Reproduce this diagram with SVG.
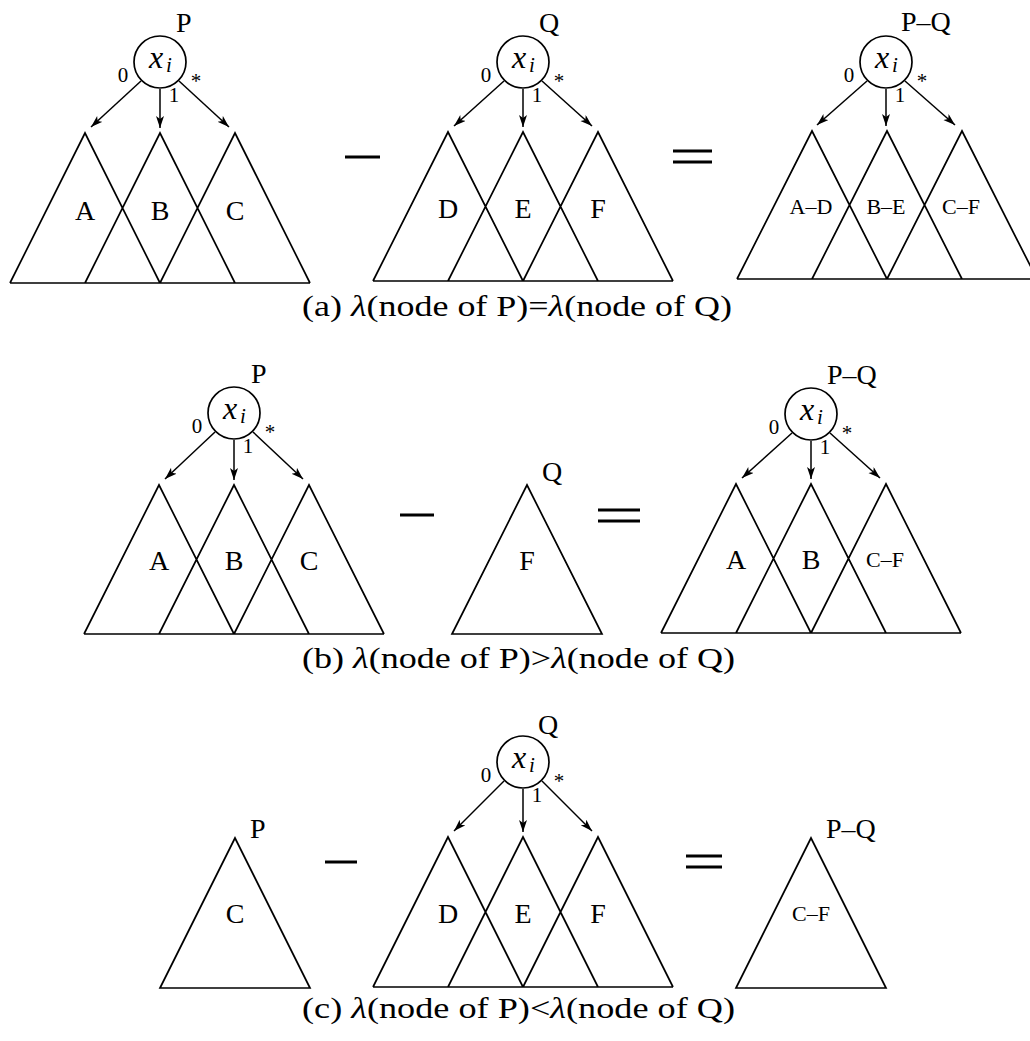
<svg xmlns="http://www.w3.org/2000/svg" width="1030" height="1041" viewBox="0 0 1030 1041">
<style>
.ln{stroke:#000;stroke-width:1.7;fill:none;stroke-linejoin:miter}
.ar{stroke:#000;stroke-width:1.5;fill:none}
.op{stroke:#000;stroke-width:3}
.t{font-family:"Liberation Serif","DejaVu Serif",serif;fill:#000}
.lb{font-size:28px;text-anchor:middle}
.sm{font-size:22px;text-anchor:middle}
.ed{font-size:21px;text-anchor:middle}
.nm{font-size:28px}
.xv{font-size:32px;font-style:italic;text-anchor:middle}
.xs{font-size:21px;font-style:italic;text-anchor:middle}
.cap{font-size:30px}
</style>
<defs>
<marker id="ah" markerUnits="userSpaceOnUse" markerWidth="13" markerHeight="9" refX="12" refY="4" orient="auto">
<path d="M0,0 L12,4 L0,8 L3,4 z" fill="#000"/>
</marker>
</defs>
<rect width="1030" height="1041" fill="#fff"/>

<!-- (a) -->
<g id="a-P">
<circle class="ln" cx="160" cy="62" r="26"/>
<text class="t xv" x="156" y="68">x</text><text class="t xs" x="169" y="72">i</text>
<text class="t nm" x="176" y="32">P</text>
<path class="ln" d="M10,283 L85,133 L160,283 M85,283 L160,133 L235,283 M160,283 L235,133 L310,283 M10,283 L310,283"/>
<text class="t lb" x="85" y="220">A</text><text class="t lb" x="160" y="220">B</text><text class="t lb" x="235" y="220">C</text>
</g>
<g id="a-Q">
<circle class="ln" cx="523" cy="62" r="26"/>
<text class="t xv" x="519" y="68">x</text><text class="t xs" x="532" y="72">i</text>
<text class="t nm" x="539" y="32">Q</text>
<path class="ln" d="M373,281 L448,132 L523,281 M448,281 L523,132 L598,281 M523,281 L598,132 L673,281 M373,281 L673,281"/>
<text class="t lb" x="448" y="218">D</text><text class="t lb" x="523" y="218">E</text><text class="t lb" x="598" y="218">F</text>
</g>
<g id="a-PQ">
<circle class="ln" cx="886" cy="62" r="26"/>
<text class="t xv" x="882" y="68">x</text><text class="t xs" x="895" y="72">i</text>
<text class="t nm" x="901" y="31">P–Q</text>
<path class="ln" d="M737,279 L812,131 L887,279 M812,279 L887,131 L962,279 M887,279 L962,131 L1037,279 M737,279 L1037,279"/>
<text class="t sm" x="811" y="214">A–D</text><text class="t sm" x="886" y="214">B–E</text><text class="t sm" x="961" y="214">C–F</text>
</g>
<g id="a-ops">
<line class="op" x1="345" y1="157" x2="380" y2="157"/>
<line class="op" x1="673" y1="151" x2="712" y2="151"/>
<line class="op" x1="673" y1="162" x2="712" y2="162"/>
</g>
<text id="cap-a" class="t cap" x="302" y="316" textLength="430" lengthAdjust="spacingAndGlyphs">(a)  <tspan font-style="italic">λ</tspan>(node of P)=<tspan font-style="italic">λ</tspan>(node of Q)</text>

<!-- (b) -->
<g id="b-P">
<circle class="ln" cx="234" cy="413" r="26"/>
<text class="t xv" x="230" y="419">x</text><text class="t xs" x="243" y="423">i</text>
<text class="t nm" x="251" y="383">P</text>
<path class="ln" d="M84,634 L159,485 L234,634 M159,634 L234,485 L309,634 M234,634 L309,485 L384,634 M84,634 L384,634"/>
<text class="t lb" x="159" y="570">A</text><text class="t lb" x="234" y="570">B</text><text class="t lb" x="309" y="570">C</text>
</g>
<g id="b-Q">
<text class="t nm" x="542" y="481">Q</text>
<path class="ln" d="M452,634 L527,485 L602,634 Z"/>
<text class="t lb" x="527" y="570">F</text>
</g>
<g id="b-PQ">
<circle class="ln" cx="811" cy="414" r="26"/>
<text class="t xv" x="807" y="420">x</text><text class="t xs" x="820" y="424">i</text>
<text class="t nm" x="827" y="384">P–Q</text>
<path class="ln" d="M661,633 L736,484 L811,633 M736,633 L811,484 L886,633 M811,633 L886,484 L961,633 M661,633 L961,633"/>
<text class="t lb" x="736" y="569">A</text><text class="t lb" x="811" y="569">B</text><text class="t sm" x="885" y="567">C–F</text>
</g>
<g id="b-ops">
<line class="op" x1="400" y1="515" x2="434" y2="515"/>
<line class="op" x1="598" y1="510" x2="640" y2="510"/>
<line class="op" x1="598" y1="521" x2="640" y2="521"/>
</g>
<text id="cap-b" class="t cap" x="302" y="668" textLength="433" lengthAdjust="spacingAndGlyphs">(b)  <tspan font-style="italic">λ</tspan>(node of P)&gt;<tspan font-style="italic">λ</tspan>(node of Q)</text>

<!-- (c) -->
<g id="c-P">
<text class="t nm" x="250" y="838">P</text>
<path class="ln" d="M160,988 L235,838 L310,988 Z"/>
<text class="t lb" x="235" y="923">C</text>
</g>
<g id="c-Q">
<circle class="ln" cx="523" cy="762" r="26"/>
<text class="t xv" x="519" y="768">x</text><text class="t xs" x="532" y="772">i</text>
<text class="t nm" x="538" y="734">Q</text>
<path class="ln" d="M373,987 L448,837 L523,987 M448,987 L523,837 L598,987 M523,987 L598,837 L673,987 M373,987 L673,987"/>
<text class="t lb" x="448" y="923">D</text><text class="t lb" x="523" y="923">E</text><text class="t lb" x="598" y="923">F</text>
</g>
<g id="c-PQ">
<text class="t nm" x="826" y="838">P–Q</text>
<path class="ln" d="M736,988 L811,838 L886,988 Z"/>
<text class="t sm" x="811" y="921">C–F</text>
</g>
<g id="c-ops">
<line class="op" x1="325" y1="862" x2="357" y2="862"/>
<line class="op" x1="686" y1="856" x2="722" y2="856"/>
<line class="op" x1="686" y1="867" x2="722" y2="867"/>
</g>
<text id="cap-c" class="t cap" x="302" y="1018" textLength="433" lengthAdjust="spacingAndGlyphs">(c)  <tspan font-style="italic">λ</tspan>(node of P)&lt;<tspan font-style="italic">λ</tspan>(node of Q)</text>

<!-- connectors -->
<g id="connectors">
<line class="ar" marker-end="url(#ah)" x1="141" y1="81" x2="91" y2="127"/>
<line class="ar" marker-end="url(#ah)" x1="160" y1="89" x2="160" y2="128"/>
<line class="ar" marker-end="url(#ah)" x1="179" y1="81" x2="229" y2="127"/>
<line class="ar" marker-end="url(#ah)" x1="504" y1="81" x2="454" y2="126"/>
<line class="ar" marker-end="url(#ah)" x1="523" y1="89" x2="523" y2="127"/>
<line class="ar" marker-end="url(#ah)" x1="542" y1="81" x2="592" y2="126"/>
<line class="ar" marker-end="url(#ah)" x1="867" y1="81" x2="817" y2="125"/>
<line class="ar" marker-end="url(#ah)" x1="886" y1="89" x2="886" y2="126"/>
<line class="ar" marker-end="url(#ah)" x1="905" y1="81" x2="955" y2="125"/>
<line class="ar" marker-end="url(#ah)" x1="215" y1="432" x2="165" y2="479"/>
<line class="ar" marker-end="url(#ah)" x1="234" y1="440" x2="234" y2="480"/>
<line class="ar" marker-end="url(#ah)" x1="253" y1="432" x2="303" y2="479"/>
<line class="ar" marker-end="url(#ah)" x1="792" y1="433" x2="742" y2="478"/>
<line class="ar" marker-end="url(#ah)" x1="811" y1="441" x2="811" y2="479"/>
<line class="ar" marker-end="url(#ah)" x1="830" y1="433" x2="880" y2="478"/>
<line class="ar" marker-end="url(#ah)" x1="504" y1="781" x2="454" y2="831"/>
<line class="ar" marker-end="url(#ah)" x1="523" y1="789" x2="523" y2="832"/>
<line class="ar" marker-end="url(#ah)" x1="542" y1="781" x2="592" y2="831"/>
</g>
<g id="edge-labels">
<text class="t ed" x="123" y="82">0</text><text class="t ed" x="174" y="102">1</text><text class="t ed" x="196" y="88">*</text>
<text class="t ed" x="486" y="82">0</text><text class="t ed" x="537" y="102">1</text><text class="t ed" x="559" y="88">*</text>
<text class="t ed" x="849" y="82">0</text><text class="t ed" x="900" y="102">1</text><text class="t ed" x="922" y="88">*</text>
<text class="t ed" x="197" y="433">0</text><text class="t ed" x="248" y="453">1</text><text class="t ed" x="270" y="439">*</text>
<text class="t ed" x="774" y="434">0</text><text class="t ed" x="825" y="454">1</text><text class="t ed" x="847" y="440">*</text>
<text class="t ed" x="486" y="782">0</text><text class="t ed" x="537" y="802">1</text><text class="t ed" x="559" y="788">*</text>
</g>
</svg>
